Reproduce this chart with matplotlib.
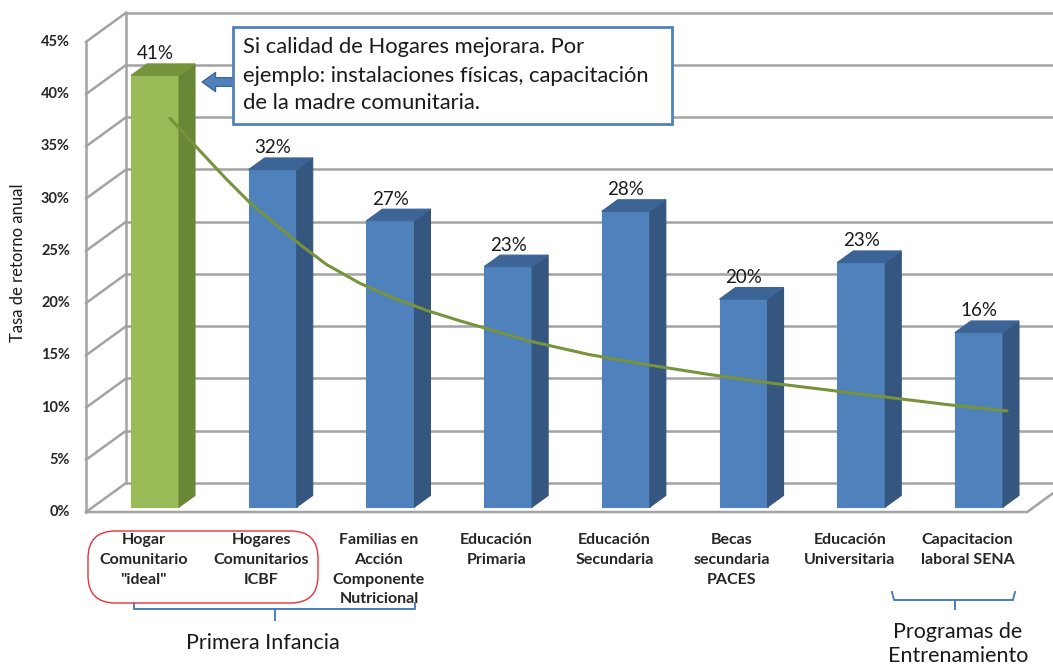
import matplotlib.pyplot as plt
from matplotlib.patches import Polygon, Rectangle, FancyBboxPatch
from matplotlib.lines import Line2D

plt.rcParams['font.family'] = ['Lato', 'DejaVu Sans']

categorias = ['Hogar\nComunitario\n"ideal"', 'Hogares\nComunitarios\nICBF',
              'Familias en\nAcción\nComponente\nNutricional', 'Educación\nPrimaria',
              'Educación\nSecundaria', 'Becas\nsecundaria\nPACES',
              'Educación\nUniversitaria', 'Capacitacion\nlaboral SENA']
tasas = [41.3, 32.3, 27.4, 23.0, 28.3, 19.9, 23.4, 16.7]
etiquetas = ['41%', '32%', '27%', '23%', '28%', '20%', '23%', '16%']
ticks_y = [0, 5, 10, 15, 20, 25, 30, 35, 40, 45]
tick_labels = ['0%', '5%', '10%', '15%', '20%', '25%', '30%', '35%', '40%', '45%']
# linea de tendencia
tend_pos = [0, 0.2, 0.47, 0.67, 0.89, 1.09, 1.31, 1.59, 1.87, 2.15, 2.43,
            3, 3.5, 4, 4.5, 5, 5.5, 6, 6.5, 7]
tend_val = [37.2, 34.7, 31.4, 29.1, 27.0, 25.1, 23.2, 21.4, 20.0, 18.8, 17.8,
            15.9, 14.6, 13.6, 12.7, 11.9, 11.2, 10.5, 9.8, 9.2]

W, H = 1053, 665
fig = plt.figure(figsize=(W / 100, H / 100), dpi=100)
ax = fig.add_axes([0, 0, 1, 1])
ax.set_xlim(-1.259, 7.687)
ax.set_ylim(-15.12, 48.52)
ax.axis('off')

# pseudo 3D
DX, DY, Y0 = 0.34, 2.78, -0.48
XL, XR = -0.528, 7.467


def proj(x, v, d):
    return x + DX * d, v + Y0 + DY * d


def fpx(x, y):
    return x / W, 1 - y / H


grid_c = '#a3a3a3'
for v, lab in zip(ticks_y, tick_labels):
    x0, y0 = proj(XL, v, 0)
    x1, y1 = proj(XL, v, 1)
    ax.plot([x0, x1], [y0, y1], color=grid_c, lw=1.8, zorder=1)
    ax.plot([x1, 8.5], [y1, y1], color=grid_c, lw=1.8, zorder=1)
    ax.text(XL - 0.136, y0, lab, ha='right', va='center', fontsize=10.5,
            fontweight='bold', color='#262626')
for d in (0, 1):
    xa, ya = proj(XL, 0, d)
    xb, yb = proj(XL, ticks_y[-1], d)
    ax.plot([xa, xb], [ya, yb], color=grid_c, lw=1.8, zorder=1)
# piso
xa, ya = proj(XL, 0, 0)
xb, yb = proj(XR, 0, 0)
xc, yc = proj(XR, 0, 1)
ax.plot([xa, xb, xc], [ya, yb, yc], color=grid_c, lw=1.8, zorder=1)

# barras
w = 0.204
d0, d1 = 0.17, 0.57
for i, v in enumerate(tasas):
    if i == 0:
        cf, cs, ct = '#9BBB59', '#6A8637', '#77933C'
    else:
        cf, cs, ct = '#4F81BD', '#34567F', '#3C6496'
    fl = proj(i - w, 0, d0)
    fr = proj(i + w, 0, d0)
    tl = proj(i - w, v, d0)
    tr = proj(i + w, v, d0)
    btl = proj(i - w, v, d1)
    btr = proj(i + w, v, d1)
    bbr = proj(i + w, 0, d1)
    ax.add_patch(Polygon([fl, fr, tr, tl], closed=True, fc=cf, ec=cf, lw=0.8, zorder=3))
    ax.add_patch(Polygon([fr, bbr, btr, tr], closed=True, fc=cs, ec=cs, lw=0.8, zorder=3))
    ax.add_patch(Polygon([tl, tr, btr, btl], closed=True, fc=ct, ec=ct, lw=0.8, zorder=3))
    ax.text(proj(i, 0, d0)[0], btl[1] + 0.15, etiquetas[i], ha='center', va='bottom',
            fontsize=13.5, color='#1a1a1a', zorder=5)
    ax.text(i - 0.04, -2.5, categorias[i], ha='center', va='top', fontsize=11.5,
            fontweight='bold', color='#262626', linespacing=1.52, zorder=5)

# tendencia
tx = [0.185 + 1.016 * t for t in tend_pos]
ax.plot(tx, tend_val, color='#77933C', lw=2.2, zorder=4, solid_capstyle='round',
        solid_joinstyle='round')

ax.text(-1.106, 23.4, 'Tasa de retorno anual', rotation=90, ha='center', va='center',
        fontsize=12, color='#1a1a1a')

# cuadro de comentario
x0, y0 = fpx(233, 124)
fig.add_artist(Rectangle((x0, y0), 439 / W, 97 / H, transform=fig.transFigure,
                         fc='white', ec='#4F81BD', lw=2, zorder=6))
for txt, py in [('Si calidad de Hogares mejorara. Por', 47),
                ('ejemplo: instalaciones físicas, capacitación', 76),
                ('de la madre comunitaria.', 103)]:
    fig.text(*fpx(243, py), txt, ha='left', va='center', fontsize=15.8,
             color='#1a1a1a', zorder=7)
ax.annotate('', xy=fpx(202, 82), xytext=fpx(234, 82), xycoords='figure fraction',
            textcoords='figure fraction',
            arrowprops=dict(arrowstyle='simple,head_length=0.7,head_width=1.0,tail_width=0.45',
                            fc='#4F81BD', ec='#385D8A', lw=0.8, shrinkA=0, shrinkB=0,
                            mutation_scale=14), zorder=7)

# agrupaciones
x0, y0 = fpx(88, 603)
fig.add_artist(FancyBboxPatch((x0, y0), 230 / W, 72 / H, transform=fig.transFigure,
                              boxstyle='round,pad=0,rounding_size=0.026',
                              mutation_aspect=W / H, fc='none', ec='#E8303A', lw=1.0))
bc = '#4A7EBB'
for pts in ([(134, 603), (134, 609), (415, 609), (415, 603)], [(275, 609), (275, 620)],
            [(892, 592), (894, 600), (1013, 600), (1015, 592)], [(955, 600), (955, 609)]):
    xs = [fpx(*p)[0] for p in pts]
    ys = [fpx(*p)[1] for p in pts]
    fig.add_artist(Line2D(xs, ys, transform=fig.transFigure, color=bc, lw=1.4, zorder=2))
fig.text(*fpx(263, 643), 'Primera Infancia', ha='center', va='center', fontsize=15.5,
         color='#1a1a1a')
fig.text(*fpx(958, 632), 'Programas de', ha='center', va='center', fontsize=15.5,
         color='#1a1a1a')
fig.text(*fpx(958, 656), 'Entrenamiento', ha='center', va='center', fontsize=15.5,
         color='#1a1a1a')

fig.savefig('out.png', dpi=100)
